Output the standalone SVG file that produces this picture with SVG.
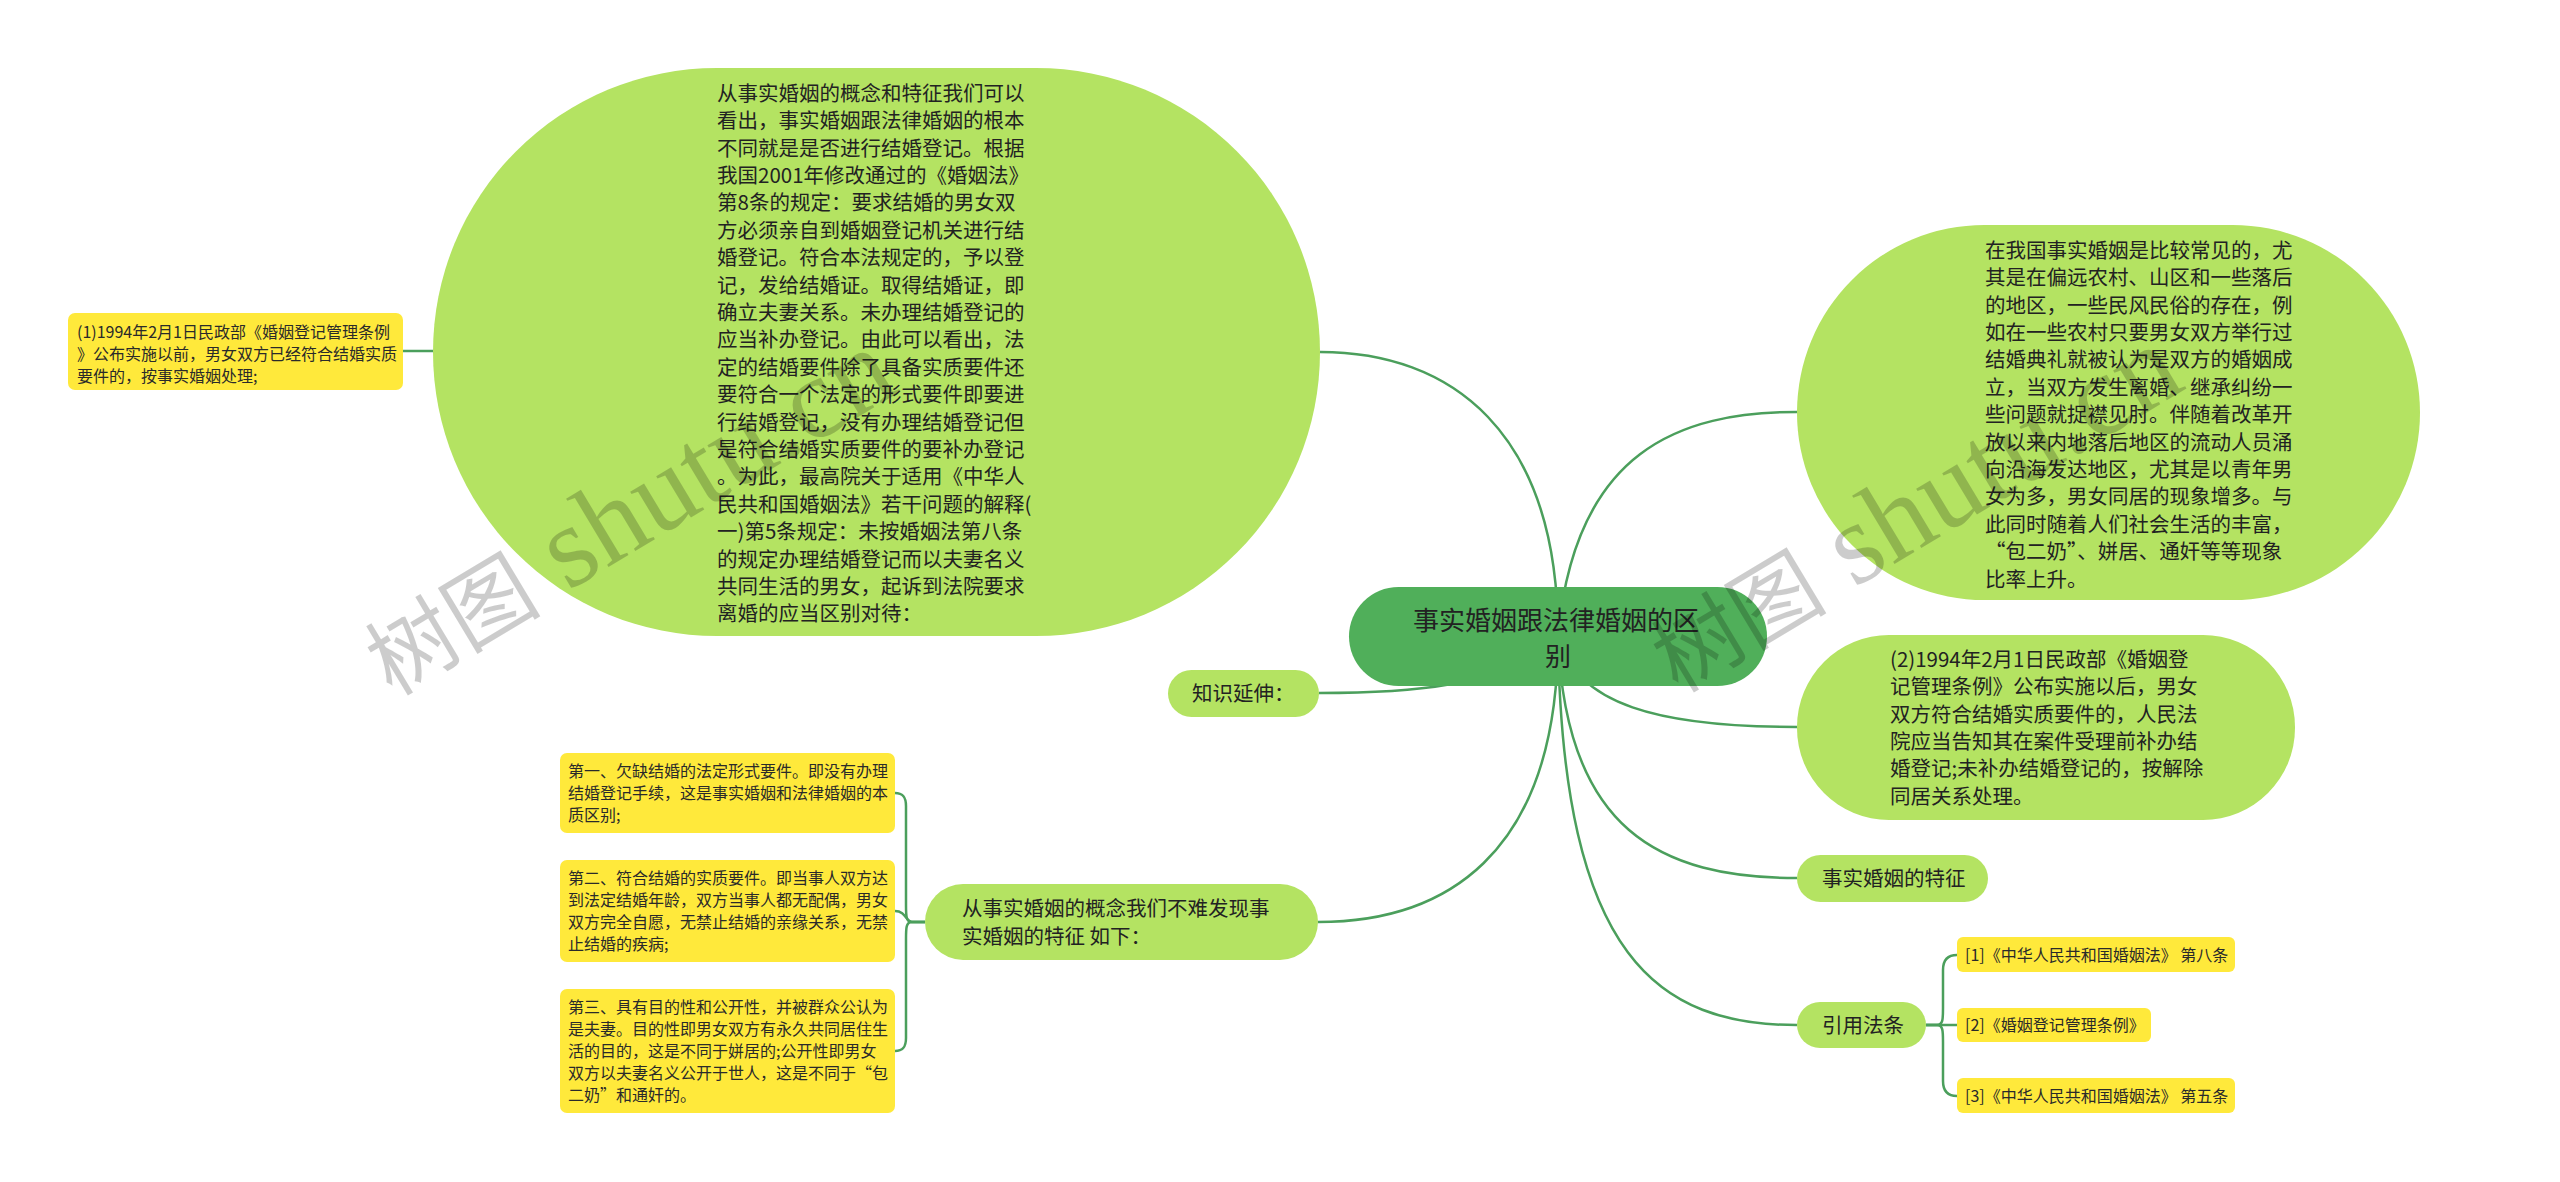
<svg xmlns="http://www.w3.org/2000/svg" width="2560" height="1182" viewBox="0 0 2560 1182">
<style>
.t{font-family:"Noto Sans CJK SC","Noto Sans",sans-serif;fill:#222}
.b{font-size:20.5px}
.s{font-size:16px;fill:#2a2a2a}
.r{font-size:26px}
.lg{fill:#b4e362}
.yb{fill:#ffe93b}
.cn path{fill:none;stroke:#4b9f5c;stroke-width:2.5}
.wm{font-family:"Liberation Serif","Noto Sans CJK SC",serif;fill:#000;fill-opacity:0.2}
.wc{font-family:"Noto Sans CJK SC",sans-serif;font-size:88px}
.wl{font-size:116px}
</style>
<rect width="2560" height="1182" fill="#fff"/>
<g class="cn" id="connectors">
<path d="M1558,636 C1558,430 1450,352 1320,352"/>
<path d="M1558,636 C1500,690 1400,693 1319,693"/>
<path d="M1558,636 C1558,860 1440,922 1318,922"/>
<path d="M1558,636 C1575,450 1680,412 1797,412"/>
<path d="M1558,636 C1575,705 1660,727 1797,727"/>
<path d="M1558,636 C1565,830 1660,878 1797,878"/>
<path d="M1558,636 C1562,960 1660,1025 1797,1025"/>
<path d="M403,351 L433,351"/>
<path d="M925,922 L912,922 C906,922 906,916 906,905 L906,806 C906,797 903,793 895,793"/>
<path d="M925,922 L912,922 C906,922 906,911 895,911"/>
<path d="M925,922 L912,922 C906,922 906,928 906,939 L906,1038 C906,1047 903,1051 895,1051"/>
<path d="M1926,1025 L1937,1025 C1943,1025 1943,1019 1943,1008 L1943,970 C1943,960 1948,955 1957,955"/>
<path d="M1926,1025 L1957,1025"/>
<path d="M1926,1025 L1937,1025 C1943,1025 1943,1031 1943,1042 L1943,1081 C1943,1091 1948,1096 1957,1096"/>
</g>
<g id="root">
<rect x="1349" y="587" width="418" height="99" rx="49.5" fill="#50af5a"/>
<text class="t r" text-anchor="middle"><tspan x="1556" y="630">事实婚姻跟法律婚姻的区</tspan><tspan x="1558" y="666">别</tspan></text>
</g>
<g id="n-left-big">
<rect class="lg" x="433" y="68" width="887" height="568" rx="284"/>
<text class="t b">
<tspan x="717" y="100.8">从事实婚姻的概念和特征我们可以</tspan>
<tspan x="717" y="128.2">看出，事实婚姻跟法律婚姻的根本</tspan>
<tspan x="717" y="155.6">不同就是是否进行结婚登记。根据</tspan>
<tspan x="717" y="183">我国2001年修改通过的《婚姻法》</tspan>
<tspan x="717" y="210.4">第8条的规定：要求结婚的男女双</tspan>
<tspan x="717" y="237.8">方必须亲自到婚姻登记机关进行结</tspan>
<tspan x="717" y="265.2">婚登记。符合本法规定的，予以登</tspan>
<tspan x="717" y="292.6">记，发给结婚证。取得结婚证，即</tspan>
<tspan x="717" y="320">确立夫妻关系。未办理结婚登记的</tspan>
<tspan x="717" y="347.4">应当补办登记。由此可以看出，法</tspan>
<tspan x="717" y="374.8">定的结婚要件除了具备实质要件还</tspan>
<tspan x="717" y="402.2">要符合一个法定的形式要件即要进</tspan>
<tspan x="717" y="429.6">行结婚登记，没有办理结婚登记但</tspan>
<tspan x="717" y="457">是符合结婚实质要件的要补办登记</tspan>
<tspan x="717" y="484.4">。为此，最高院关于适用《中华人</tspan>
<tspan x="717" y="511.8">民共和国婚姻法》若干问题的解释(</tspan>
<tspan x="717" y="539.2">一)第5条规定：未按婚姻法第八条</tspan>
<tspan x="717" y="566.6">的规定办理结婚登记而以夫妻名义</tspan>
<tspan x="717" y="594">共同生活的男女，起诉到法院要求</tspan>
<tspan x="717" y="621.4">离婚的应当区别对待：</tspan>
</text>
</g>
<g id="n-left-note">
<rect class="yb" x="68" y="313" width="335" height="77" rx="7"/>
<text class="t s">
<tspan x="77" y="338">(1)1994年2月1日民政部《婚姻登记管理条例</tspan>
<tspan x="77" y="360">》公布实施以前，男女双方已经符合结婚实质</tspan>
<tspan x="77" y="382">要件的，按事实婚姻处理;</tspan>
</text>
</g>
<g id="n-ext">
<rect class="lg" x="1168" y="670" width="151" height="47" rx="23.5"/>
<text class="t b" x="1192" y="700.8">知识延伸：</text>
</g>
<g id="n-feature-intro">
<rect class="lg" x="925" y="884" width="393" height="76" rx="38"/>
<text class="t b"><tspan x="962" y="915.8">从事实婚姻的概念我们不难发现事</tspan><tspan x="962" y="943.8">实婚姻的特征 如下：</tspan></text>
</g>
<g id="n-f1">
<rect class="yb" x="560" y="753" width="335" height="80" rx="7"/>
<text class="t s">
<tspan x="568" y="777">第一、欠缺结婚的法定形式要件。即没有办理</tspan>
<tspan x="568" y="799">结婚登记手续，这是事实婚姻和法律婚姻的本</tspan>
<tspan x="568" y="821">质区别;</tspan>
</text>
</g>
<g id="n-f2">
<rect class="yb" x="560" y="860" width="335" height="102" rx="7"/>
<text class="t s">
<tspan x="568" y="884">第二、符合结婚的实质要件。即当事人双方达</tspan>
<tspan x="568" y="906">到法定结婚年龄，双方当事人都无配偶，男女</tspan>
<tspan x="568" y="928">双方完全自愿，无禁止结婚的亲缘关系，无禁</tspan>
<tspan x="568" y="950">止结婚的疾病;</tspan>
</text>
</g>
<g id="n-f3">
<rect class="yb" x="560" y="989" width="335" height="124" rx="7"/>
<text class="t s">
<tspan x="568" y="1013">第三、具有目的性和公开性，并被群众公认为</tspan>
<tspan x="568" y="1035">是夫妻。目的性即男女双方有永久共同居住生</tspan>
<tspan x="568" y="1057">活的目的，这是不同于姘居的;公开性即男女</tspan>
<tspan x="568" y="1079">双方以夫妻名义公开于世人，这是不同于“包</tspan>
<tspan x="568" y="1101">二奶”和通奸的。</tspan>
</text>
</g>
<g id="n-right-big">
<rect class="lg" x="1797" y="225" width="623" height="375" rx="187.5"/>
<text class="t b">
<tspan x="1985" y="257.8">在我国事实婚姻是比较常见的，尤</tspan>
<tspan x="1985" y="285.2">其是在偏远农村、山区和一些落后</tspan>
<tspan x="1985" y="312.6">的地区，一些民风民俗的存在，例</tspan>
<tspan x="1985" y="340">如在一些农村只要男女双方举行过</tspan>
<tspan x="1985" y="367.4">结婚典礼就被认为是双方的婚姻成</tspan>
<tspan x="1985" y="394.8">立，当双方发生离婚、继承纠纷一</tspan>
<tspan x="1985" y="422.2">些问题就捉襟见肘。伴随着改革开</tspan>
<tspan x="1985" y="449.6">放以来内地落后地区的流动人员涌</tspan>
<tspan x="1985" y="477">向沿海发达地区，尤其是以青年男</tspan>
<tspan x="1985" y="504.4">女为多，男女同居的现象增多。与</tspan>
<tspan x="1985" y="531.8">此同时随着人们社会生活的丰富，</tspan>
<tspan x="1985" y="559.2">“包二奶”、姘居、通奸等等现象</tspan>
<tspan x="1985" y="586.6">比率上升。</tspan>
</text>
</g>
<g id="n-right-2">
<rect class="lg" x="1797" y="635" width="498" height="185" rx="92"/>
<text class="t b">
<tspan x="1890" y="666.8">(2)1994年2月1日民政部《婚姻登</tspan>
<tspan x="1890" y="694.2">记管理条例》公布实施以后，男女</tspan>
<tspan x="1890" y="721.6">双方符合结婚实质要件的，人民法</tspan>
<tspan x="1890" y="749">院应当告知其在案件受理前补办结</tspan>
<tspan x="1890" y="776.4">婚登记;未补办结婚登记的，按解除</tspan>
<tspan x="1890" y="803.8">同居关系处理。</tspan>
</text>
</g>
<g id="n-trait">
<rect class="lg" x="1797" y="855" width="191" height="47" rx="23.5"/>
<text class="t b" x="1822" y="885.8">事实婚姻的特征</text>
</g>
<g id="n-law">
<rect class="lg" x="1797" y="1002" width="129" height="46" rx="23"/>
<text class="t b" x="1822" y="1032.8">引用法条</text>
</g>
<g id="n-ref1">
<rect class="yb" x="1957" y="937" width="278" height="35" rx="6"/>
<text class="t s" x="1965" y="961">[1]《中华人民共和国婚姻法》 第八条</text>
</g>
<g id="n-ref2">
<rect class="yb" x="1957" y="1008" width="194" height="34" rx="6"/>
<text class="t s" x="1965" y="1031">[2]《婚姻登记管理条例》</text>
</g>
<g id="n-ref3">
<rect class="yb" x="1957" y="1078" width="278" height="35" rx="6"/>
<text class="t s" x="1965" y="1102">[3]《中华人民共和国婚姻法》 第五条</text>
</g>
<g id="watermark">
<text class="wm" transform="translate(392,697) rotate(-31)"><tspan class="wc">树图</tspan><tspan class="wl"> shutu.cn</tspan></text>
<text class="wm" transform="translate(1678,694) rotate(-31)"><tspan class="wc">树图</tspan><tspan class="wl"> shutu.cn</tspan></text>
</g>
</svg>
